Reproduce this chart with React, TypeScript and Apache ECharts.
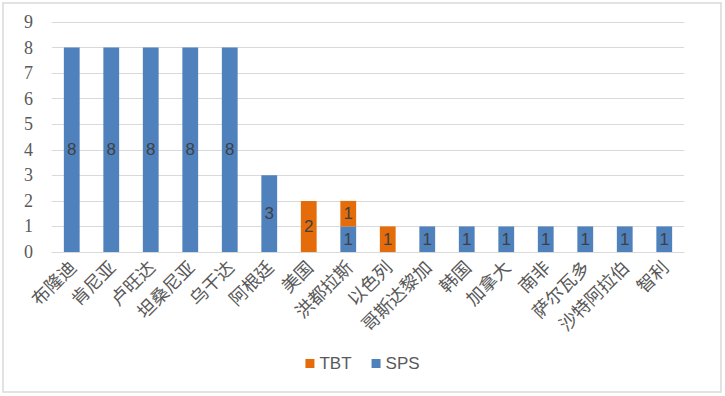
import React, { useEffect, useRef } from "react";
import * as echarts from "echarts";

const categories = ["布隆迪", "肯尼亚", "卢旺达", "坦桑尼亚", "乌干达", "阿根廷", "美国", "洪都拉斯", "以色列", "哥斯达黎加", "韩国", "加拿大", "南非", "萨尔瓦多", "沙特阿拉伯", "智利"];
const spsValues = [8, 8, 8, 8, 8, 3, null, 1, null, 1, 1, 1, 1, 1, 1, 1];
const tbtValues = [null, null, null, null, null, null, 2, 1, 1, null, null, null, null, null, null, null];
const yTicks = [0, 9, 1];

export default function App() {
  const ref = useRef<HTMLDivElement>(null);
  useEffect(() => {
    if (!ref.current) return;
    const chart = echarts.init(ref.current, null, { renderer: "svg" });
    const label = {
      show: true,
      position: "inside",
      color: "#404040",
      fontSize: 17,
      fontFamily: "Liberation Sans",
    };
    chart.setOption({
      animation: false,
      backgroundColor: "#fff",
      graphic: [
        {
          type: "rect",
          shape: { x: 3, y: 3, width: 718, height: 389 },
          style: { fill: "none", stroke: "#D9D9D9", lineWidth: 1.5 },
          silent: true,
        },
      ],
      grid: { left: 52, right: 41, top: 22, bottom: 144 },
      legend: {
        data: ["TBT", "SPS"],
        bottom: 19,
        left: "center",
        itemWidth: 9,
        itemHeight: 9,
        itemGap: 20,
        icon: "rect",
        textStyle: { color: "#595959", fontSize: 17, fontFamily: "Liberation Sans" },
      },
      xAxis: {
        type: "category",
        data: categories,
        axisLine: { show: true, lineStyle: { color: "#D9D9D9" } },
        axisTick: { show: false },
        axisLabel: {
          rotate: 45,
          interval: 0,
          color: "#595959",
          fontSize: 18,
          margin: 11,
          fontFamily: "Noto Sans CJK SC",
        },
      },
      yAxis: {
        type: "value",
        min: yTicks[0],
        max: yTicks[1],
        interval: yTicks[2],
        axisLine: { show: false },
        axisTick: { show: false },
        splitLine: { lineStyle: { color: "#D9D9D9" } },
        axisLabel: {
          color: "#595959",
          fontSize: 18,
          margin: 19,
          fontFamily: "Liberation Serif",
        },
      },
      series: [
        {
          name: "SPS",
          type: "bar",
          stack: "total",
          data: spsValues,
          barWidth: "40%",
          itemStyle: { color: "#4F81BD" },
          label,
        },
        {
          name: "TBT",
          type: "bar",
          stack: "total",
          data: tbtValues,
          barWidth: "40%",
          itemStyle: { color: "#E46C0A" },
          label,
        },
      ],
    });
    return () => chart.dispose();
  }, []);
  return (
    <div
      ref={ref}
      style={{ position: "fixed", left: 0, top: 0, width: 725, height: 396 }}
    />
  );
}
